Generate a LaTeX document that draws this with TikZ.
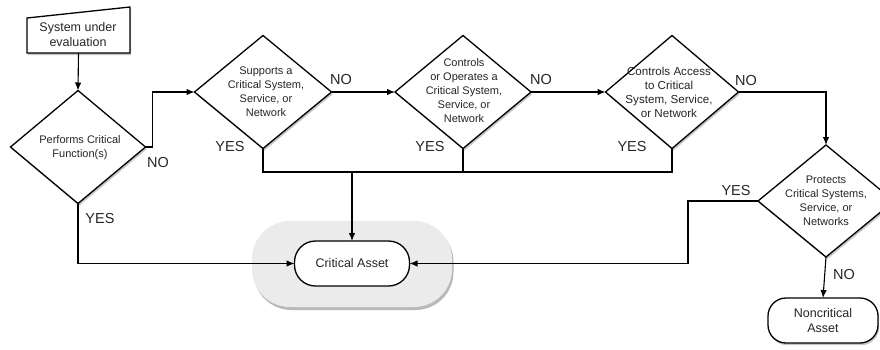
\documentclass[tikz,border=0pt]{standalone}
\usepackage{fontspec}
\setmainfont{Liberation Sans}
\usetikzlibrary{shapes.geometric,arrows.meta,shadows,calc}
\begin{document}
\begin{tikzpicture}[x=1pt,y=-1pt,
  shd/.style={drop shadow={opacity=0.45,shadow xshift=1.2pt,shadow yshift=-2.2pt}},
  dia/.style={diamond,draw,line width=1.3pt,fill=white,minimum width=#1,minimum height=113pt,inner sep=0pt,outer sep=0pt,shd},
  dtext/.style={font=\fontsize{11}{14}\selectfont,align=center,text=black!85,inner sep=0pt},
  btext/.style={font=\fontsize{12.5}{15}\selectfont,align=center,text=black!85,inner sep=0pt},
  lab/.style={font=\fontsize{14.5}{16}\selectfont,text=black!85,inner sep=0pt},
  line/.style={line width=1.1pt},
  conn/.style={line width=1.1pt,-{Latex[length=8pt,width=6.5pt]}},
  rbox/.style={draw,line width=1.3pt,fill=white,outer sep=0pt,btext}
]
\useasboundingbox (0,0) rectangle (880,349);
\clip (0,0) rectangle (880,349);

% start box (manual input)
\node[minimum width=103pt,minimum height=46pt,inner sep=0pt,outer sep=0pt] (start) at (78.5,30) {};
\draw[line width=1.3pt,fill=white,shd] (start.south west) -- (start.south east) -- (start.north east) -- ($(start.north west)+(0,11)$) -- cycle;
\node[btext] (stext) at (78,34.5) {System under\\evaluation};

% diamonds
\node[dia=135pt] (d1) at (78,147) {};
\node[dtext] (t1) at (80,148) {Performs Critical\\Function(s)};
\node[dia=137pt] (d2) at (263,92) {};
\node[dtext] (t2) at (266,92) {Supports a\\Critical System,\\Service, or\\Network};
\node[dia=136pt] (d3) at (463,92) {};
\node[dtext] (t3) at (464,91) {Controls\\or Operates a\\Critical System,\\Service, or\\Network};
\node[dia=133pt] (d4) at (672,92) {};
\node[dtext,font=\fontsize{11.6}{14}\selectfont] (t4) at (669,92) {Controls Access\\to Critical\\System, Service,\\or Network};
\node[dia=136pt,minimum height=112pt] (d5) at (826,201) {};
\node[dtext] (t5) at (826,201) {Protects\\Critical Systems,\\Service, or\\Networks};

% critical asset
\node[fill=gray!16,rounded corners=38pt,minimum width=200pt,minimum height=86pt,drop shadow={opacity=0.55,shadow xshift=1.5pt,shadow yshift=-3pt}] (cabg) at (352,264) {};
\node[rbox,rounded corners=21pt,minimum width=115pt,minimum height=45pt] (ca) at (352,263.5) {Critical Asset};

% noncritical asset
\node[rbox,rounded corners=18pt,minimum width=110pt,minimum height=45pt,shd] (nc) at (823,320.5) {Noncritical\\Asset};

% connectors
\coordinate (bus) at (352,172);
\draw[conn] (start.south) -- (d1.north);
\draw[conn] (d1.east) -- ++(7,0) |- (d2.west);
\draw[conn] (d2.east) -- (d3.west);
\draw[conn] (d3.east) -- (d4.west);
\draw[conn] (d4.east) -| (d5.north);
\draw[line] (d2.south) |- (bus) -| (d4.south);
\draw[line] (d3.south) -- (d3.south |- bus);
\draw[conn] (bus) -- (ca.north);
\draw[conn] (d1.south) |- (ca.west);
\draw[conn] (d5.west) -- ++(-70,0) |- (ca.east);
\draw[conn] (d5.south) -- (nc.north);

% labels
\node[lab] (no1) at (158,163) {NO};
\node[lab] (no2) at (341,80) {NO};
\node[lab] (no3) at (541,80) {NO};
\node[lab] (no4) at (746,81) {NO};
\node[lab] (no5) at (844,274) {NO};
\node[lab] (yes1) at (100,219) {YES};
\node[lab] (yes2) at (230,147) {YES};
\node[lab] (yes3) at (430,147) {YES};
\node[lab] (yes4) at (632,147) {YES};
\node[lab] (yes5) at (736,191) {YES};
\end{tikzpicture}
\end{document}
